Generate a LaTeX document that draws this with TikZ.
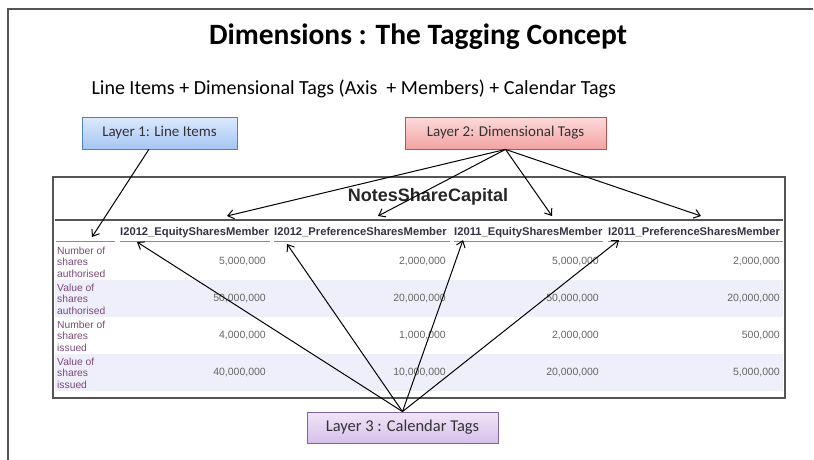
\documentclass[tikz,border=0pt]{standalone}
\usepackage{fontspec}
\setmainfont{Carlito}
\newfontfamily\arialfont{Liberation Sans}
\usepackage{xcolor}
\usepackage{tikz}
\usetikzlibrary{shapes,arrows,positioning,calc,arrows.meta}

\definecolor{frameline}{HTML}{555555}
\definecolor{rowband}{HTML}{EFEFFB}
\definecolor{rowlabel}{HTML}{7A4A7A}
\definecolor{cellgray}{HTML}{666666}
\definecolor{headtext}{HTML}{333344}
\definecolor{boxtext}{HTML}{333333}
\definecolor{blueedge}{HTML}{4F81BD}
\definecolor{bluetop}{HTML}{DCE9FC}
\definecolor{bluebot}{HTML}{A6C6F5}
\definecolor{rededge}{HTML}{C0504D}
\definecolor{redtop}{HTML}{FCDADA}
\definecolor{redbot}{HTML}{F4A3A3}
\definecolor{violetedge}{HTML}{8064A2}
\definecolor{violettop}{HTML}{F0E5F8}
\definecolor{violetbot}{HTML}{D6C0EA}

\tikzset{
    layerbox/.style={draw, line width=0.8pt, minimum height=32pt, text=boxtext,
        font=\fontsize{15}{18}\selectfont, inner sep=0pt},
    headcell/.style={anchor=base west, inner sep=0pt, text=headtext,
        font=\arialfont\bfseries\fontsize{11.2}{13}\selectfont},
    rowcell/.style={anchor=west, align=left, inner sep=0pt, text=rowlabel,
        font=\arialfont\fontsize{10.3}{11.5}\selectfont},
    valcell/.style={anchor=east, inner sep=0pt, text=cellgray,
        font=\arialfont\fontsize{10.5}{12}\selectfont},
    tagarrow/.style={line width=1pt, -{Straight Barb[length=6pt,width=9pt]}}
}

\begin{document}
\begin{tikzpicture}[x=1pt, y=-1pt]
    \useasboundingbox (0,0) rectangle (814,460);

    % Page frame
    \draw[frameline, line width=2pt] (8,460) -- (8,9) -- (813,9);

    % Title
    \node[font=\bfseries\fontsize{29.5}{34}\selectfont] (title) at (418,37)
        {Dimensions : The Tagging Concept};
    \node[anchor=west, font=\fontsize{20}{24}\selectfont] (formula) at (88,89)
        {Line Items + Dimensional Tags (Axis \ + Members) + Calendar Tags};

    % Layers
    \node[layerbox, minimum width=155pt, draw=blueedge, top color=bluetop, bottom color=bluebot]
        (l1) at (159.5,133) {Layer 1: Line Items};
    \node[layerbox, minimum width=201pt, draw=rededge, top color=redtop, bottom color=redbot]
        (l2) at (505.5,133) {Layer 2: Dimensional Tags};
    \node[layerbox, minimum width=191pt, minimum height=31pt, draw=violetedge,
        top color=violettop, bottom color=violetbot, font=\fontsize{16.5}{20}\selectfont]
        (l3) at (402.5,427.5) {Layer 3 : Calendar Tags};

    % Table
    \fill[rowband] (55,280) rectangle (783,317);
    \fill[rowband] (55,354) rectangle (783,391);
    \draw[frameline, line width=1.5pt] (53,177) rectangle (785,398);
    \node[font=\arialfont\bfseries\fontsize{18}{21}\selectfont, text=black!85] (tname) at (428,197)
        {NotesShareCapital};
    \draw[frameline, line width=2pt] (55,220) -- (783,220);

    % Column headers
    \node[headcell] (h1) at (120,235) {I2012\_EquitySharesMember};
    \node[headcell] (h2) at (274,235) {I2012\_PreferenceSharesMember};
    \node[headcell] (h3) at (454,235) {I2011\_EquitySharesMember};
    \node[headcell] (h4) at (608,235) {I2011\_PreferenceSharesMember};
    \foreach \xa/\xb in {56/115, 120/270, 274/450, 454/603, 608/783}
        \draw[black!45, line width=1pt] (\xa,241) -- (\xb,241);

    % Rows
    \node[rowcell] (r1) at (57,262) {Number of\\shares\\authorised};
    \node[rowcell] (r2) at (57,299) {Value of\\shares\\authorised};
    \node[rowcell] (r3) at (57,336) {Number of\\shares\\issued};
    \node[rowcell] (r4) at (57,373) {Value of\\shares\\issued};

    \node[valcell] (v11) at (266,262) {5,000,000};
    \node[valcell] (v12) at (446,262) {2,000,000};
    \node[valcell] (v13) at (599,262) {5,000,000};
    \node[valcell] (v14) at (780,262) {2,000,000};
    \node[valcell] (v21) at (266,299) {50,000,000};
    \node[valcell] (v22) at (446,299) {20,000,000};
    \node[valcell] (v23) at (599,299) {50,000,000};
    \node[valcell] (v24) at (780,299) {20,000,000};
    \node[valcell] (v31) at (266,336) {4,000,000};
    \node[valcell] (v32) at (446,336) {1,000,000};
    \node[valcell] (v33) at (599,336) {2,000,000};
    \node[valcell] (v34) at (780,336) {500,000};
    \node[valcell] (v41) at (266,373) {40,000,000};
    \node[valcell] (v42) at (446,373) {10,000,000};
    \node[valcell] (v43) at (599,373) {20,000,000};
    \node[valcell] (v44) at (780,373) {5,000,000};

    % Arrow tips
    \coordinate (t0) at (92,237);
    \coordinate (t21) at (227,216);
    \coordinate (t22) at (378,216);
    \coordinate (t23) at (552,216);
    \coordinate (t24) at (701,216);
    \coordinate (t31) at (137,242);
    \coordinate (t32) at (287,244);
    \coordinate (t33) at (463,240);
    \coordinate (t34) at (619,240);

    % Tags
    \draw[tagarrow] (l1) -- (t0);
    \foreach \t in {t21,t22,t23,t24}
        \draw[tagarrow] (l2.south) -- (\t);
    \foreach \t in {t31,t32,t33,t34}
        \draw[tagarrow] (l3.north) -- (\t);
\end{tikzpicture}
\end{document}
